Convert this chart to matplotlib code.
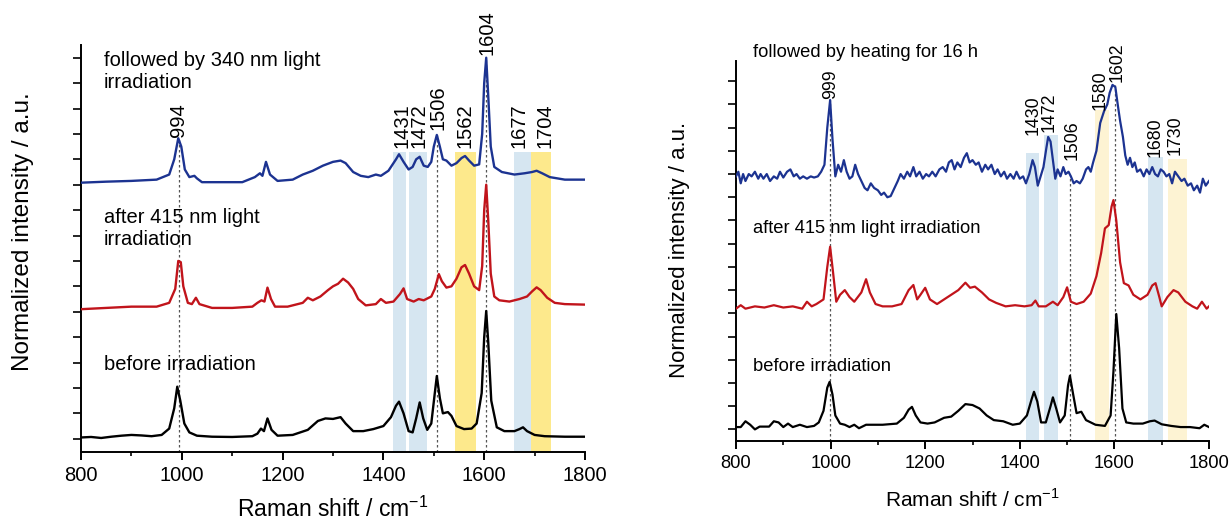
import matplotlib
matplotlib.use("Agg")
import matplotlib.pyplot as plt
from matplotlib.ticker import MultipleLocator

plt.rcParams['font.family'] = ['Liberation Sans', 'DejaVu Sans']
plt.rcParams['mathtext.fontset'] = 'custom'
plt.rcParams['mathtext.rm'] = 'Liberation Sans'

# ---------------- Left panel data (wavenumber, offset intensity) ----------------
L_before_x = [800, 820, 840, 860, 880, 900, 920, 940, 960, 975, 985, 991, 997, 1005, 1015, 1030, 1060, 1100, 1140,
              1150, 1157, 1163, 1170, 1178, 1190, 1220, 1250, 1270, 1285, 1300, 1315, 1325, 1340, 1360, 1380, 1400,
              1415, 1425, 1431, 1440, 1450, 1458, 1465, 1472, 1479, 1487, 1495, 1502, 1506, 1512, 1518, 1528, 1535,
              1545, 1560, 1575, 1585, 1595, 1600, 1604, 1608, 1614, 1625, 1640, 1660, 1670, 1677, 1685, 1700, 1720,
              1760, 1800]
L_before_y = [0.05, 0.07, 0.03, 0.08, 0.12, 0.15, 0.13, 0.10, 0.15, 0.40, 1.20, 2.05, 1.50, 0.60, 0.25, 0.12, 0.08,
              0.07, 0.10, 0.20, 0.40, 0.30, 0.80, 0.35, 0.12, 0.15, 0.35, 0.70, 0.80, 0.78, 0.85, 0.60, 0.30, 0.30,
              0.38, 0.50, 0.85, 1.30, 1.46, 1.00, 0.30, 0.25, 0.80, 1.43, 0.80, 0.35, 0.60, 1.80, 2.47, 1.60, 1.00,
              1.05, 0.90, 0.50, 0.38, 0.40, 0.60, 1.80, 4.00, 5.03, 3.80, 1.50, 0.45, 0.30, 0.30, 0.38, 0.45, 0.30,
              0.15, 0.10, 0.08, 0.08]

L_415_x = [800, 850, 900, 950, 975, 987, 993, 998, 1003, 1012, 1020, 1028, 1035, 1060, 1100, 1140, 1150, 1158, 1164,
           1170, 1177, 1185, 1210, 1240, 1250, 1260, 1275, 1290, 1300, 1310, 1320, 1330, 1340, 1350, 1365, 1385, 1395,
           1405, 1420, 1433, 1440, 1447, 1460, 1470, 1480, 1495, 1502, 1510, 1516, 1525, 1535, 1545, 1555, 1562, 1570,
           1580, 1590, 1596, 1600, 1604, 1608, 1613, 1620, 1630, 1650, 1670, 1685, 1695, 1704, 1712, 1725, 1740, 1760,
           1800]
L_415_y = [5.10, 5.15, 5.20, 5.20, 5.35, 5.90, 7.00, 6.95, 6.00, 5.35, 5.30, 5.55, 5.30, 5.15, 5.15, 5.20, 5.35, 5.45,
           5.40, 5.95, 5.50, 5.20, 5.20, 5.35, 5.55, 5.45, 5.60, 5.85, 6.00, 6.10, 6.30, 6.15, 5.90, 5.50, 5.25, 5.30,
           5.50, 5.35, 5.40, 5.70, 5.92, 5.50, 5.40, 5.50, 5.45, 5.60, 5.90, 6.48, 6.20, 5.95, 6.00, 6.30, 6.75, 6.84,
           6.50, 6.00, 5.85, 6.80, 9.00, 10.00, 8.60, 6.50, 5.60, 5.45, 5.40, 5.50, 5.60, 5.80, 5.96, 5.85, 5.55, 5.35,
           5.30, 5.28]

L_340_x = [800, 850, 900, 950, 975, 985, 993, 999, 1006, 1015, 1025, 1030, 1040, 1080, 1120, 1145, 1155, 1160, 1167,
           1175, 1190, 1220, 1240, 1260, 1280, 1300, 1315, 1325, 1340, 1355, 1370, 1385, 1395, 1410, 1425, 1431, 1440,
           1450, 1458, 1465, 1472, 1480, 1488, 1495, 1500, 1506, 1512, 1518, 1525, 1535, 1545, 1555, 1562, 1570, 1580,
           1590, 1596, 1600, 1604, 1608, 1613, 1620, 1635, 1660, 1680, 1695, 1704, 1715, 1730, 1760, 1800]
L_340_y = [10.08, 10.12, 10.15, 10.20, 10.40, 11.00, 11.83, 11.50, 10.60, 10.30, 10.35, 10.25, 10.10, 10.10, 10.10,
           10.30, 10.45, 10.35, 10.90, 10.40, 10.15, 10.20, 10.40, 10.55, 10.75, 10.90, 10.95, 10.85, 10.50, 10.35,
           10.30, 10.40, 10.35, 10.55, 11.00, 11.20, 10.90, 10.60, 10.70, 11.00, 11.10, 10.75, 10.70, 10.90, 11.50,
           11.96, 11.50, 11.00, 10.95, 10.75, 10.85, 11.05, 11.13, 10.95, 10.75, 10.80, 12.00, 14.00, 15.00, 13.50,
           11.50, 10.70, 10.50, 10.40, 10.45, 10.50, 10.55, 10.45, 10.30, 10.20, 10.20]

L_peak_labels = ['994', '1431', '1472', '1506', '1562', '1604', '1677', '1704']
L_label_x = [994, 1436, 1470, 1508, 1561, 1605, 1669, 1721]
L_label_y = [11.87, 11.44, 11.44, 12.15, 11.44, 15.10, 11.44, 11.44]
L_dash_x = [994, 1506, 1604]
L_dash_top = [11.83, 11.96, 15.0]
L_bands_blue = [(1420, 1445), (1451, 1486), (1660, 1693)]
L_bands_yellow = [(1543, 1584), (1693, 1733)]
L_band_top = 11.3

# ---------------- Right panel data ----------------
R_before_x = [800, 810, 820, 830, 840, 850, 870, 880, 890, 900, 910, 920, 935, 950, 965, 975, 985, 993, 998, 1004, 1010,
              1020, 1030, 1040, 1050, 1060, 1075, 1090, 1110, 1140, 1155, 1165, 1172, 1180, 1190, 1205, 1220, 1240,
              1255, 1270, 1285, 1300, 1315, 1330, 1345, 1365, 1385, 1400, 1415, 1425, 1430, 1437, 1445, 1455, 1465,
              1470, 1477, 1485, 1495, 1502, 1506, 1512, 1520, 1530, 1540, 1560, 1580, 1592, 1598, 1604, 1610, 1617,
              1625, 1640, 1660, 1675, 1685, 1700, 1720, 1740, 1760, 1780, 1790, 1800]
R_before_y = [0.10, 0.10, 0.35, 0.20, 0.00, 0.12, 0.12, 0.35, 0.30, 0.10, 0.25, 0.10, 0.20, 0.10, 0.15, 0.30, 0.80,
              1.80, 2.05, 1.50, 0.60, 0.25, 0.20, 0.10, 0.20, 0.05, 0.20, 0.20, 0.20, 0.25, 0.50, 0.85, 0.97, 0.60,
              0.30, 0.25, 0.30, 0.50, 0.55, 0.80, 1.09, 1.05, 0.90, 0.60, 0.40, 0.35, 0.20, 0.25, 0.60, 1.30, 1.62,
              1.20, 0.30, 0.30, 1.00, 1.38, 0.90, 0.30, 0.60, 1.90, 2.31, 1.60, 0.70, 0.76, 0.40, 0.20, 0.15, 0.60,
              2.50, 4.97, 3.50, 0.90, 0.30, 0.25, 0.25, 0.35, 0.38, 0.22, 0.15, 0.10, 0.10, 0.05, 0.20, 0.10]

R_415_x = [800, 810, 820, 840, 860, 880, 900, 920, 940, 950, 960, 970, 985, 993, 999, 1005, 1012, 1020, 1030, 1040,
           1050, 1065, 1075, 1083, 1095, 1110, 1130, 1150, 1165, 1175, 1183, 1190, 1200, 1210, 1225, 1240, 1255, 1270,
           1285, 1295, 1305, 1320, 1335, 1350, 1370, 1390, 1410, 1425, 1433, 1440, 1455, 1470, 1480, 1492, 1500, 1508,
           1520, 1535, 1550, 1562, 1572, 1580, 1588, 1594, 1598, 1604, 1612, 1620, 1630, 1640, 1655, 1670, 1680, 1687,
           1695, 1700, 1712, 1725, 1735, 1750, 1765, 1775, 1785, 1795, 1800]
R_415_y = [5.20, 5.35, 5.20, 5.30, 5.25, 5.35, 5.25, 5.30, 5.20, 5.50, 5.30, 5.40, 5.60, 7.00, 7.87, 6.80, 5.50, 5.80,
           6.00, 5.70, 5.50, 5.90, 6.47, 5.90, 5.40, 5.30, 5.30, 5.40, 6.00, 6.22, 5.60, 5.80, 6.10, 5.60, 5.40, 5.60,
           5.80, 6.00, 6.32, 6.10, 6.15, 5.90, 5.60, 5.45, 5.30, 5.35, 5.30, 5.35, 5.55, 5.30, 5.30, 5.50, 5.35, 5.70,
           6.12, 5.50, 5.40, 5.50, 5.85, 6.60, 7.60, 8.66, 8.80, 9.60, 9.88, 9.00, 7.20, 6.30, 6.20, 5.80, 5.60, 5.80,
           6.20, 6.30, 5.70, 5.30, 5.70, 6.00, 5.90, 5.50, 5.30, 5.20, 5.50, 5.20, 5.30]

R_heat_x = [800, 805, 810, 815, 820, 827, 833, 840, 847, 852, 858, 865, 872, 880, 887, 893, 900, 908, 915, 922, 928,
            935, 942, 950, 958, 965, 973, 980, 987, 993, 999, 1004, 1010, 1016, 1022, 1028, 1034, 1040, 1046, 1052,
            1058, 1065, 1072, 1078, 1085, 1092, 1100, 1107, 1113, 1120, 1127, 1135, 1142, 1148, 1155, 1162, 1168,
            1175, 1181, 1188, 1195, 1202, 1208, 1215, 1222, 1230, 1237, 1244, 1250, 1256, 1262, 1268, 1275, 1282,
            1288, 1294, 1300, 1307, 1313, 1320, 1327, 1333, 1340, 1347, 1353, 1360, 1367, 1373, 1380, 1387, 1393,
            1400, 1407, 1413, 1420, 1427, 1432, 1438, 1444, 1450, 1456, 1460, 1465, 1470, 1475, 1480, 1486, 1492,
            1497, 1503, 1508, 1514, 1520, 1527, 1533, 1540, 1545, 1550, 1555, 1562, 1570, 1578, 1585, 1590, 1596,
            1602, 1607, 1612, 1618, 1623, 1628, 1633, 1638, 1643, 1648, 1655, 1662, 1668, 1674, 1680, 1686, 1692,
            1698, 1704, 1710, 1716, 1722, 1728, 1735, 1742, 1748, 1755, 1762, 1768, 1775, 1781, 1787, 1793, 1800]
R_heat_y = [10.90, 11.10, 10.60, 11.00, 10.70, 11.00, 10.90, 11.10, 10.80, 11.00, 10.80, 11.00, 10.70, 10.90, 10.80,
            11.10, 10.85, 11.10, 11.20, 10.90, 11.00, 10.80, 10.90, 10.80, 10.90, 10.85, 10.90, 11.10, 11.40, 13.00,
            14.19, 12.50, 10.90, 11.40, 11.10, 11.60, 11.10, 10.80, 10.90, 11.40, 11.00, 10.70, 10.40, 10.30, 10.60,
            10.40, 10.30, 10.10, 10.20, 10.00, 10.05, 10.40, 10.70, 11.00, 10.80, 11.10, 10.90, 11.30, 10.90, 11.10,
            10.80, 11.00, 10.90, 11.10, 10.90, 11.20, 11.30, 11.10, 11.50, 11.60, 11.20, 11.50, 11.30, 11.70, 11.90,
            11.50, 11.60, 11.40, 11.50, 11.10, 11.40, 11.20, 11.40, 11.00, 11.20, 10.90, 11.10, 10.80, 11.00, 10.80,
            11.10, 10.80, 10.90, 10.60, 11.00, 11.60, 11.30, 10.50, 10.90, 11.30, 12.10, 12.60, 12.40, 11.60, 10.80,
            11.20, 10.90, 11.30, 11.00, 11.10, 10.90, 10.60, 10.70, 10.60, 10.80, 11.20, 11.30, 11.10, 11.50, 12.00,
            13.20, 13.70, 14.00, 14.50, 14.84, 14.75, 14.00, 13.30, 12.60, 11.80, 11.40, 11.70, 11.30, 11.50, 11.10,
            11.20, 10.90, 11.20, 11.00, 11.30, 11.00, 10.90, 11.20, 11.10, 10.90, 11.00, 10.60, 11.10, 10.90, 10.70,
            10.80, 10.50, 10.60, 10.30, 10.50, 10.20, 10.80, 10.50, 10.70]

R_peak_labels = ['999', '1430', '1472', '1506', '1580', '1602', '1680', '1730']
R_label_x = [999, 1428, 1461, 1510, 1570, 1606, 1686, 1728]
R_label_y = [14.25, 12.70, 12.80, 11.60, 13.76, 14.97, 11.73, 11.80]
R_dash_x = [999, 1506, 1602]
R_dash_top = [14.19, 10.95, 14.84]
R_bands_blue = [(1413, 1441), (1452, 1481), (1670, 1703)]
R_bands_blue_top = [11.9, 12.69, 11.75]
R_bands_yellow = [(1560, 1588), (1713, 1753)]
R_bands_yellow_top = [13.76, 11.64]

BLUE = '#1c3391'
RED = '#c1141b'
BAND_BLUE = '#d6e6f1'
BAND_YEL_L = '#fde98c'
BAND_YEL_R = '#fdf3d3'
DASH = '#555555'

W, H = 1231, 523
fig = plt.figure(figsize=(W / 100, H / 100), dpi=100)

def frac_box(x0, x1, ytop, ybot):
    return [x0 / W, 1 - ybot / H, (x1 - x0) / W, (ybot - ytop) / H]

axL = fig.add_axes(frac_box(81, 585, 45, 451.7))
axR = fig.add_axes(frac_box(736, 1209, 61, 441))

def style(ax, ylim, fs_tick):
    ax.set_xlim(800, 1800)
    ax.set_ylim(*ylim)
    for s in ['top', 'right']:
        ax.spines[s].set_visible(False)
    for s in ['left', 'bottom']:
        ax.spines[s].set_linewidth(1.4)
    ax.xaxis.set_major_locator(MultipleLocator(200))
    ax.xaxis.set_minor_locator(MultipleLocator(100))
    ax.yaxis.set_major_locator(MultipleLocator(1))
    ax.tick_params(axis='x', which='major', direction='out', length=6, width=1.4, pad=4, labelsize=fs_tick)
    ax.tick_params(axis='x', which='minor', direction='out', length=3, width=1.2)
    ax.tick_params(axis='y', which='major', direction='out', length=6, width=1.2, labelleft=False)

style(axL, (-0.51, 15.5), 14.5)
style(axR, (-0.5, 15.87), 13.2)

# left panel
for (a, b) in L_bands_blue:
    axL.fill_between([a, b], -0.51, L_band_top, color=BAND_BLUE, lw=0, zorder=0)
for (a, b) in L_bands_yellow:
    axL.fill_between([a, b], -0.51, L_band_top, color=BAND_YEL_L, lw=0, zorder=0)
for xd, yt in zip(L_dash_x, L_dash_top):
    axL.plot([xd, xd], [-0.51, yt], color=DASH, lw=0.9, ls=(0, (2, 2)), zorder=1)
axL.plot(L_before_x, L_before_y, color='black', lw=1.7, zorder=3)
axL.plot(L_415_x, L_415_y, color=RED, lw=1.7, zorder=3)
axL.plot(L_340_x, L_340_y, color=BLUE, lw=1.7, zorder=3)
for t, x, y in zip(L_peak_labels, L_label_x, L_label_y):
    axL.text(x, y, t, rotation=90, ha='center', va='bottom', fontsize=14.5)
axL.text(845, 15.25, 'followed by 340 nm light\nirradiation', fontsize=14.5, va='top', ha='left', linespacing=1.15)
axL.text(845, 9.07, 'after 415 nm light\nirradiation', fontsize=14.5, va='top', ha='left', linespacing=1.15)
axL.text(845, 3.3, 'before irradiation', fontsize=14.5, va='top', ha='left')

# right panel
for (a, b), t in zip(R_bands_blue, R_bands_blue_top):
    axR.fill_between([a, b], -0.5, t, color=BAND_BLUE, lw=0, zorder=0)
for (a, b), t in zip(R_bands_yellow, R_bands_yellow_top):
    axR.fill_between([a, b], -0.5, t, color=BAND_YEL_R, lw=0, zorder=0)
for xd, yt in zip(R_dash_x, R_dash_top):
    axR.plot([xd, xd], [-0.5, yt], color=DASH, lw=0.9, ls=(0, (2, 2)), zorder=1)
axR.plot(R_before_x, R_before_y, color='black', lw=1.6, zorder=3)
axR.plot(R_415_x, R_415_y, color=RED, lw=1.6, zorder=3)
axR.plot(R_heat_x, R_heat_y, color=BLUE, lw=1.6, zorder=3)
for t, x, y in zip(R_peak_labels, R_label_x, R_label_y):
    axR.text(x, y, t, rotation=90, ha='center', va='bottom', fontsize=12.8)
axR.text(835, 16.6, 'followed by heating for 16 h', fontsize=13.2, va='top', ha='left', clip_on=False)
axR.text(835, 9.02, 'after 415 nm light irradiation', fontsize=13.2, va='top', ha='left')
axR.text(835, 3.07, 'before irradiation', fontsize=13.2, va='top', ha='left')

# axis labels
fig.text(333 / W, 1 - 517 / H, r'Raman shift / cm$^{\mathregular{-1}}$', ha='center', va='baseline', fontsize=16.5)
fig.text(23 / W, 1 - 232 / H, 'Normalized intensity / a.u.', rotation=90, ha='center', va='center', fontsize=17.5)
fig.text(972 / W, 1 - 507 / H, r'Raman shift / cm$^{\mathregular{-1}}$', ha='center', va='baseline', fontsize=15)
fig.text(680 / W, 1 - 250 / H, 'Normalized intensity / a.u.', rotation=90, ha='center', va='center', fontsize=16)

fig.savefig('out.png', dpi=100)
